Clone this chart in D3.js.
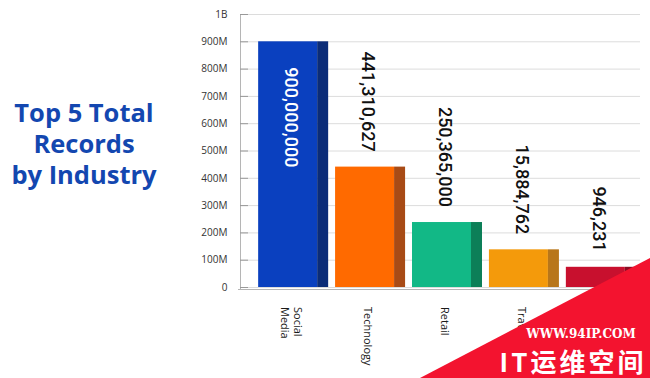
<!DOCTYPE html>
<html>
<head>
<meta charset="utf-8">
<script src="https://cdn.jsdelivr.net/npm/d3@7"></script>
<style>
  body { margin: 0; background: #fff; }
  svg { display: block; }
</style>
</head>
<body>
<svg id="chart" width="650" height="378"></svg>
<script>
// data
var industries = ["Social Media", "Technology", "Retail", "Travel", "Healthcare"];
var barHeights = [900e6, 441e6, 238e6, 138e6, 74e6];   // drawn heights
var recordLabels = ["900,000,000", "441,310,627", "250,365,000", "15,884,762", "946,231"];
var tickValues = [0, 1e8, 2e8, 3e8, 4e8, 5e8, 6e8, 7e8, 8e8, 9e8, 1e9];
var tickLabels = ["0", "100M", "200M", "300M", "400M", "500M", "600M", "700M", "800M", "900M", "1B"];
var frontColors = ["#0a40bf", "#ff6a00", "#12b886", "#f49a0b", "#c8102e"];
var sideColors = ["#0b2c78", "#a84b16", "#0c7f58", "#b8761a", "#8c0b22"];
var titleLines = ["Top 5 Total", "Records", "by Industry"];

var svg = d3.select("#chart");

var x = d3.scaleBand()
  .domain(industries)
  .range([252, 642])
  .paddingInner(0.09)
  .paddingOuter(0.08);

var y = d3.scaleLinear()
  .domain([0, 1e9])
  .range([287, 14]);

// gridlines
svg.append("g")
  .selectAll("line")
  .data(tickValues)
  .join("line")
  .attr("x1", 240).attr("x2", 640)
  .attr("y1", d => y(d) + 0.5).attr("y2", d => y(d) + 0.5)
  .attr("stroke", "#dcdcdc");

// y axis
var yAxis = d3.axisLeft(y)
  .tickValues(tickValues)
  .tickSize(0)
  .tickPadding(13)
  .tickFormat((d, i) => tickLabels[i]);

var gy = svg.append("g")
  .attr("transform", "translate(240.5,0)")
  .call(yAxis);
gy.select(".domain").attr("stroke", "#b5b5b5").attr("d", "M0,14V289");
gy.selectAll("text")
  .attr("font-family", "'Open Sans', sans-serif")
  .attr("font-size", 10)
  .attr("fill", "#333");

// small tick marks
svg.append("g")
  .selectAll("line")
  .data(tickValues)
  .join("line")
  .attr("x1", 240).attr("x2", 248)
  .attr("y1", d => y(d) + 0.5).attr("y2", d => y(d) + 0.5)
  .attr("stroke", "#999");

// bars: front face + darker side
var side = 11;
var bars = svg.append("g")
  .selectAll("g")
  .data(industries)
  .join("g");

bars.append("rect")
  .attr("x", d => x(d))
  .attr("y", (d, i) => y(barHeights[i]))
  .attr("width", x.bandwidth() - side)
  .attr("height", (d, i) => y(0) - y(barHeights[i]))
  .attr("fill", (d, i) => frontColors[i]);

bars.append("rect")
  .attr("x", d => x(d) + x.bandwidth() - side)
  .attr("y", (d, i) => y(barHeights[i]))
  .attr("width", side)
  .attr("height", (d, i) => y(0) - y(barHeights[i]))
  .attr("fill", (d, i) => sideColors[i]);

// bottom axis line
svg.append("line")
  .attr("x1", 238).attr("x2", 642)
  .attr("y1", 289.5).attr("y2", 289.5)
  .attr("stroke", "#b5b5b5");

// value labels, rotated clockwise
bars.append("text")
  .attr("transform", (d, i) => {
    var cx = x(d) + x.bandwidth() / 2 - 2;
    var ty = i === 0 ? y(barHeights[i]) + 26 : y(barHeights[i]) - 15;
    return "translate(" + cx + "," + ty + ") rotate(90)";
  })
  .attr("text-anchor", (d, i) => i === 0 ? "start" : "end")
  .attr("dy", "0.35em")
  .attr("font-family", "Roboto, sans-serif")
  .attr("font-weight", 500)
  .attr("font-size", 18)
  .attr("fill", (d, i) => i === 0 ? "#fff" : "#111")
  .text((d, i) => recordLabels[i]);

// category labels
var cat = svg.append("g")
  .selectAll("text")
  .data(industries)
  .join("text")
  .attr("transform", d => "translate(" + (x(d) + x.bandwidth() / 2 - 2) + ",307) rotate(90)")
  .attr("font-family", "'Open Sans', sans-serif")
  .attr("font-size", 11)
  .attr("fill", "#1a1a1a");

cat.each(function(d) {
  var words = d.split(" ");
  var t = d3.select(this);
  if (words.length > 1) {
    t.append("tspan").attr("x", 0).attr("dy", "-0.25em").text(words[0]);
    t.append("tspan").attr("x", 0).attr("dy", "1.2em").text(words[1]);
  } else {
    t.append("tspan").attr("x", 0).attr("dy", "0.35em").text(d);
  }
});

// title
svg.append("text")
  .attr("font-family", "'Open Sans', sans-serif")
  .attr("font-weight", "bold")
  .attr("font-size", 25.5)
  .attr("fill", "#1347b0")
  .attr("text-anchor", "middle")
  .selectAll("tspan")
  .data(titleLines)
  .join("tspan")
  .attr("x", 84)
  .attr("y", (d, i) => 122 + i * 31)
  .text(d => d);

// watermark corner
svg.append("path")
  .attr("d", "M420,378L650,258L650,378Z")
  .attr("fill", "#f3132f");

svg.append("text")
  .attr("x", 581).attr("y", 338)
  .attr("text-anchor", "middle")
  .attr("font-family", "'DejaVu Serif', serif")
  .attr("font-weight", "bold")
  .attr("font-size", 12)
  .attr("fill", "#fff")
  .text("WWW.94IP.COM");

svg.append("text")
  .attr("x", 573).attr("y", 372)
  .attr("text-anchor", "middle")
  .attr("font-family", "'Noto Sans CJK SC', sans-serif")
  .attr("font-weight", "bold")
  .attr("font-size", 26)
  .attr("letter-spacing", 3)
  .attr("fill", "#fff")
  .text("IT运维空间");
</script>
</body>
</html>
